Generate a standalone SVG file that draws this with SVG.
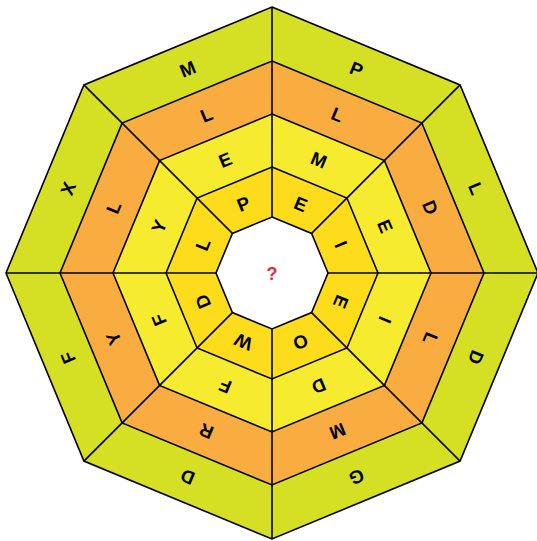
<svg xmlns="http://www.w3.org/2000/svg" width="537" height="541" viewBox="0 0 537 541">
<style>
.ring{stroke:#000;stroke-width:1.6;stroke-linejoin:miter}
.r0{fill:#d5df23}
.r1{fill:#f9ad41}
.r2{fill:#f7eb30}
.r3{fill:#fddc1b}
.r4{fill:#ffffff}
.lbl{font-family:"Liberation Sans",Arial,sans-serif;font-weight:bold;font-size:18.5px;fill:#000;text-anchor:middle}
.q{font-family:"Liberation Sans",Arial,sans-serif;font-weight:bold;font-size:18px;fill:#e8283c;text-anchor:middle}
.div{stroke:#000;stroke-width:1.6;fill:none}
</style>
<g id="ring-outer">
<polygon class="ring r0" points="272,7 460.09,84.91 538,273 460.09,461.09 272,539 83.91,461.09 6,273 83.91,84.91"/>
</g>
<g id="ring-2">
<polygon class="ring r1" points="272,61 421.91,123.09 484,273 421.91,422.91 272,485 122.09,422.91 60,273 122.09,123.09"/>
</g>
<g id="ring-3">
<polygon class="ring r2" points="272,114 384.43,160.57 431,273 384.43,385.43 272,432 159.57,385.43 113,273 159.57,160.57"/>
</g>
<g id="ring-inner">
<polygon class="ring r3" points="272,167 346.95,198.05 378,273 346.95,347.95 272,379 197.05,347.95 166,273 197.05,198.05"/>
</g>
<g id="center">
<polygon class="ring r4" points="272,217 311.6,233.4 328,273 311.6,312.6 272,329 232.4,312.6 216,273 232.4,233.4"/>
<text class="q" x="272" y="280">?</text>
</g>
<g id="connectors">
<line class="div" x1="272" y1="217" x2="272" y2="7"/>
<line class="div" x1="311.6" y1="233.4" x2="460.09" y2="84.91"/>
<line class="div" x1="328" y1="273" x2="538" y2="273"/>
<line class="div" x1="311.6" y1="312.6" x2="460.09" y2="461.09"/>
<line class="div" x1="272" y1="329" x2="272" y2="539"/>
<line class="div" x1="232.4" y1="312.6" x2="83.91" y2="461.09"/>
<line class="div" x1="216" y1="273" x2="6" y2="273"/>
<line class="div" x1="232.4" y1="233.4" x2="83.91" y2="84.91"/>
</g>
<g id="sector-1" transform="rotate(22.5 272 273)">
<text class="lbl" x="272" y="58.8">P</text>
<text class="lbl" x="272" y="108.2">L</text>
<text class="lbl" x="272" y="157.2">M</text>
<text class="lbl" x="272" y="204.8">E</text>
</g>
<g id="sector-2" transform="rotate(67.5 272 273)">
<text class="lbl" x="272" y="58.8">L</text>
<text class="lbl" x="272" y="108.2">D</text>
<text class="lbl" x="272" y="157.2">E</text>
<text class="lbl" x="272" y="204.8">I</text>
</g>
<g id="sector-3" transform="rotate(112.5 272 273)">
<text class="lbl" x="272" y="58.8">D</text>
<text class="lbl" x="272" y="108.2">L</text>
<text class="lbl" x="272" y="157.2">I</text>
<text class="lbl" x="272" y="204.8">E</text>
</g>
<g id="sector-4" transform="rotate(157.5 272 273)">
<text class="lbl" x="272" y="58.8">G</text>
<text class="lbl" x="272" y="108.2">M</text>
<text class="lbl" x="272" y="157.2">D</text>
<text class="lbl" x="272" y="204.8">O</text>
</g>
<g id="sector-5" transform="rotate(202.5 272 273)">
<text class="lbl" x="272" y="58.8">D</text>
<text class="lbl" x="272" y="108.2">R</text>
<text class="lbl" x="272" y="157.2">F</text>
<text class="lbl" x="272" y="204.8">W</text>
</g>
<g id="sector-6" transform="rotate(247.5 272 273)">
<text class="lbl" x="272" y="58.8">F</text>
<text class="lbl" x="272" y="108.2">Y</text>
<text class="lbl" x="272" y="157.2">F</text>
<text class="lbl" x="272" y="204.8">D</text>
</g>
<g id="sector-7" transform="rotate(292.5 272 273)">
<text class="lbl" x="272" y="58.8">X</text>
<text class="lbl" x="272" y="108.2">L</text>
<text class="lbl" x="272" y="157.2">Y</text>
<text class="lbl" x="272" y="204.8">L</text>
</g>
<g id="sector-8" transform="rotate(337.5 272 273)">
<text class="lbl" x="272" y="58.8">M</text>
<text class="lbl" x="272" y="108.2">L</text>
<text class="lbl" x="272" y="157.2">E</text>
<text class="lbl" x="272" y="204.8">P</text>
</g>
</svg>
